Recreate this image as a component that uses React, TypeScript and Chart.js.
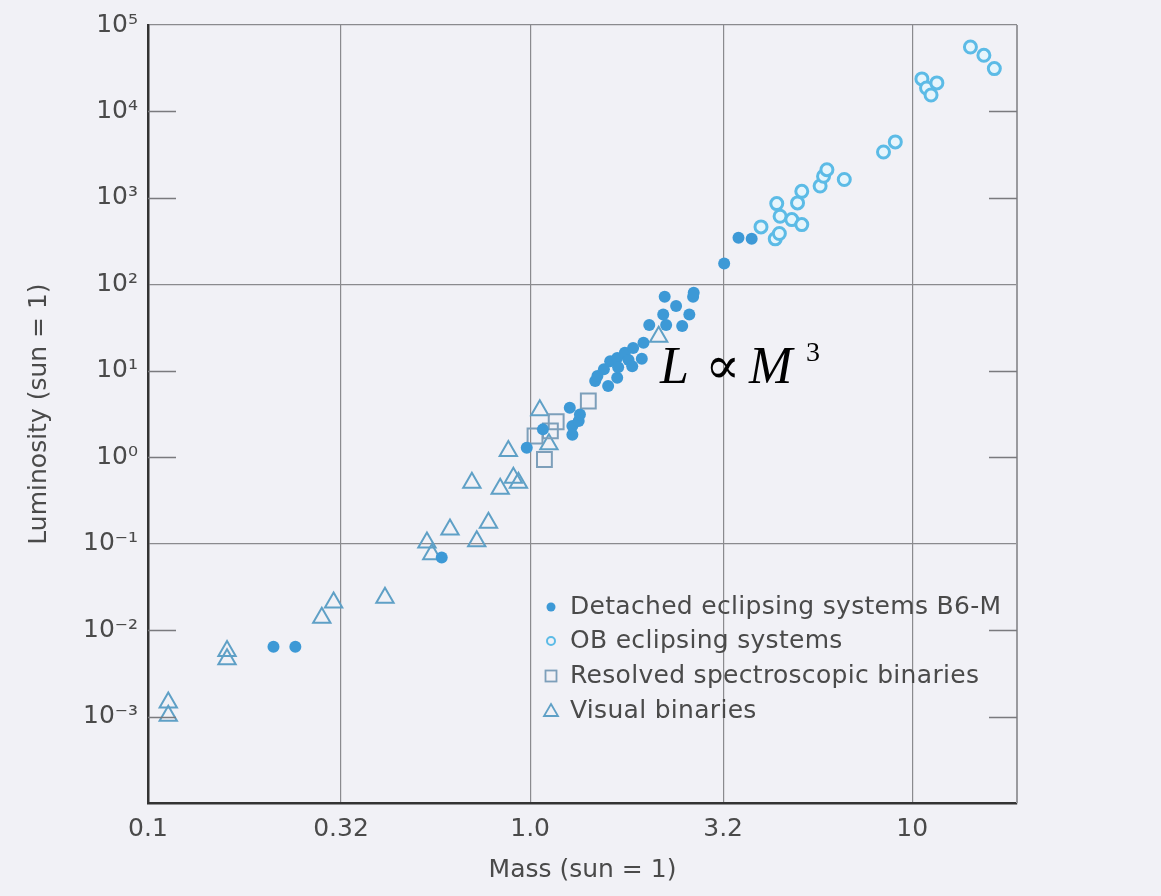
import React, { useEffect, useRef } from 'react';
import { Chart, registerables } from 'chart.js';

Chart.register(...registerables);

// ---- data (mass in solar units, luminosity in solar units) ----
const detachedMass = [0.213, 0.243, 0.587, 0.98, 1.08, 1.27, 1.29, 1.29, 1.34, 1.35, 1.48, 1.50, 1.56, 1.60, 1.62, 1.69, 1.69, 1.70, 1.77, 1.81, 1.85, 1.86, 1.96, 1.98, 2.05, 2.23, 2.25, 2.27, 2.41, 2.50, 2.61, 2.67, 2.68, 3.22, 3.51, 3.80];
const detachedLum = [0.0064, 0.0064, 0.069, 1.29, 2.10, 3.73, 2.30, 1.82, 2.62, 3.13, 7.6, 8.7, 10.4, 6.65, 12.9, 14.1, 8.3, 11.0, 16.2, 13.3, 11.3, 18.4, 13.8, 21.1, 33.8, 44.8, 71.7, 33.8, 56.0, 32.9, 44.8, 71.7, 79.7, 174, 345, 336];

const obMass = [4.02, 4.38, 4.49, 4.42, 4.51, 4.84, 5.01, 5.14, 5.14, 5.74, 5.86, 5.98, 6.64, 8.41, 9.03, 10.6, 10.9, 11.2, 11.6, 14.2, 15.4, 16.4];
const obLum = [462, 336, 387, 859, 614, 561, 875, 1190, 491, 1370, 1780, 2120, 1630, 3400, 4440, 23800, 18700, 15500, 21400, 55700, 44600, 31300];

const specMass = [1.03, 1.09, 1.13, 1.17, 1.42];
const specLum = [1.76, 0.94, 2.02, 2.57, 4.47];

const visualMass = [0.113, 0.113, 0.161, 0.161, 0.285, 0.306, 0.417, 0.537, 0.553, 0.617, 0.704, 0.725, 0.778, 0.835, 0.877, 0.904, 0.932, 1.06, 1.12, 2.17];
const visualLum = [0.00145, 0.00102, 0.00575, 0.00459, 0.0139, 0.0208, 0.0237, 0.103, 0.0752, 0.146, 0.507, 0.107, 0.175, 0.432, 1.18, 0.579, 0.507, 3.49, 1.41, 24.7];

const massTicks = [0.1, 0.32, 1.0, 3.2, 10];
const massTickLabels = ['0.1', '0.32', '1.0', '3.2', '10'];
const lumTicks = [1e-3, 1e-2, 1e-1, 1e0, 1e1, 1e2, 1e3, 1e4, 1e5];
const lumTickLabels = ['10⁻³', '10⁻²', '10⁻¹', '10⁰', '10¹', '10²', '10³', '10⁴', '10⁵'];
const lumGridValues = [1e-1, 1e2, 1e5];

const seriesNames = [
  'Detached eclipsing systems B6-M',
  'OB eclipsing systems',
  'Resolved spectroscopic binaries',
  'Visual binaries',
];

const BG = '#f1f1f6';
const TEXT = '#4a4a4a';
const FONT = "'DejaVu Sans', sans-serif";

const pts = (xs: number[], ys: number[]) => xs.map((x, i) => ({ x, y: ys[i] }));

const isGrid = (v: number) => lumGridValues.some((g) => Math.abs(Math.log10(v) - Math.log10(g)) < 1e-6);

const decorPlugin = {
  id: 'decor',
  afterDraw(chart: any) {
    const { ctx, chartArea } = chart;
    const { left, right, top, bottom } = chartArea;
    const ys = chart.scales.y;
    ctx.save();
    // right border
    ctx.strokeStyle = '#9a9a9e';
    ctx.lineWidth = 2;
    ctx.beginPath();
    ctx.moveTo(right, top);
    ctx.lineTo(right, bottom);
    ctx.stroke();
    // inner short tick marks
    ctx.strokeStyle = '#7a7a7e';
    ctx.lineWidth = 1.3;
    lumTicks.forEach((v) => {
      if (isGrid(v)) return;
      const y = Math.round(ys.getPixelForValue(v)) + 0.5;
      ctx.beginPath();
      ctx.moveTo(left, y);
      ctx.lineTo(left + 28, y);
      ctx.moveTo(right - 28, y);
      ctx.lineTo(right, y);
      ctx.stroke();
    });

    // legend
    const lx = 551;
    const tx = 570;
    const rows = [607, 641, 676, 711];
    ctx.font = `25px ${FONT}`;
    try {
      (ctx as any).letterSpacing = '0.3px';
    } catch (e) {
      /* ignore */
    }
    ctx.fillStyle = TEXT;
    ctx.textBaseline = 'middle';
    ctx.textAlign = 'left';
    seriesNames.forEach((name, i) => ctx.fillText(name, tx, rows[i]));
    try {
      (ctx as any).letterSpacing = '0px';
    } catch (e) {
      /* ignore */
    }
    // markers
    ctx.fillStyle = '#3d99d6';
    ctx.beginPath();
    ctx.arc(lx, rows[0], 4.5, 0, Math.PI * 2);
    ctx.fill();
    ctx.strokeStyle = '#5cbbe6';
    ctx.lineWidth = 2;
    ctx.beginPath();
    ctx.arc(lx, rows[1], 4, 0, Math.PI * 2);
    ctx.stroke();
    ctx.strokeStyle = '#7d9fba';
    ctx.lineWidth = 1.8;
    ctx.strokeRect(lx - 5.5, rows[2] - 5.5, 11, 11);
    ctx.strokeStyle = '#5fa0c6';
    ctx.beginPath();
    ctx.moveTo(lx, rows[3] - 7);
    ctx.lineTo(lx + 7, rows[3] + 5);
    ctx.lineTo(lx - 7, rows[3] + 5);
    ctx.closePath();
    ctx.stroke();

    // annotation L ∝ M^3
    ctx.fillStyle = '#000';
    ctx.textBaseline = 'alphabetic';
    ctx.font = "italic 52px 'Liberation Serif', 'DejaVu Serif', serif";
    ctx.fillText('L', 660, 383);
    ctx.font = "52px 'Liberation Serif', 'DejaVu Serif', serif";
    ctx.fillText('∝', 705, 383);
    ctx.font = "italic 52px 'Liberation Serif', 'DejaVu Serif', serif";
    ctx.fillText('M', 749, 383);
    ctx.font = "28px 'Liberation Serif', 'DejaVu Serif', serif";
    ctx.fillText('3', 806, 361);
    ctx.restore();
  },
};

export default function App() {
  const ref = useRef<HTMLCanvasElement>(null);

  useEffect(() => {
    document.body.style.margin = '0';
    document.body.style.background = BG;
    const chart = new Chart(ref.current as HTMLCanvasElement, {
      type: 'scatter',
      data: {
        datasets: [
          {
            label: seriesNames[0],
            data: pts(detachedMass, detachedLum),
            pointStyle: 'circle',
            pointRadius: 6,
            pointBorderWidth: 0,
            backgroundColor: '#3d99d6',
            borderColor: '#3d99d6',
          },
          {
            label: seriesNames[1],
            data: pts(obMass, obLum),
            pointStyle: 'circle',
            pointRadius: 6,
            pointBorderWidth: 3,
            backgroundColor: '#e6f5fc',
            borderColor: '#5cbbe6',
          },
          {
            label: seriesNames[2],
            data: pts(specMass, specLum),
            pointStyle: 'rect',
            pointRadius: 10.5,
            pointBorderWidth: 2,
            backgroundColor: 'rgba(0,0,0,0)',
            borderColor: '#7d9fba',
          },
          {
            label: seriesNames[3],
            data: pts(visualMass, visualLum),
            pointStyle: 'triangle',
            pointRadius: 10,
            pointBorderWidth: 2,
            backgroundColor: 'rgba(0,0,0,0)',
            borderColor: '#5fa0c6',
          },
        ],
      },
      options: {
        responsive: false,
        animation: false,
        events: [],
        layout: { padding: { left: 0, top: 22, right: 144, bottom: 0 } },
        plugins: { legend: { display: false }, tooltip: { enabled: false } },
        scales: {
          x: {
            type: 'logarithmic',
            min: 0.1,
            max: 18.8,
            afterBuildTicks: (s: any) => {
              s.ticks = massTicks.map((v) => ({ value: v }));
            },
            afterFit: (s: any) => {
              s.height = 93;
            },
            ticks: {
              autoSkip: false,
              maxRotation: 0,
              padding: 11,
              color: TEXT,
              font: { family: FONT, size: 25 },
              callback: (_v: any, i: number) => massTickLabels[i],
            },
            grid: { color: '#8a8a8e', lineWidth: 1.2, drawTicks: false },
            border: { color: '#333333', width: 2.5 },
            title: {
              display: true,
              text: 'Mass (sun = 1)',
              color: TEXT,
              font: { family: FONT, size: 25 },
              padding: { top: 0, bottom: 11 },
            },
          },
          y: {
            type: 'logarithmic',
            min: 1e-4,
            max: 1e5,
            afterBuildTicks: (s: any) => {
              s.ticks = lumTicks.map((v) => ({ value: v }));
            },
            afterFit: (s: any) => {
              s.width = 148;
            },
            ticks: {
              autoSkip: false,
              padding: 10,
              color: TEXT,
              font: { family: FONT, size: 25 },
              callback: (_v: any, i: number) => lumTickLabels[i],
            },
            grid: {
              drawTicks: false,
              lineWidth: 1.2,
              color: (c: any) => (c.tick && isGrid(c.tick.value) ? '#8a8a8e' : 'rgba(0,0,0,0)'),
            },
            border: { color: '#333333', width: 2.5 },
            title: {
              display: true,
              text: 'Luminosity (sun = 1)',
              color: TEXT,
              font: { family: FONT, size: 25 },
              padding: { top: 24, bottom: 0 },
            },
          },
        },
      },
      plugins: [decorPlugin],
    } as any);
    return () => chart.destroy();
  }, []);

  return (
    <div style={{ position: 'absolute', left: 0, top: 0, width: 1161, height: 896, background: BG }}>
      <canvas ref={ref} width={1161} height={896} style={{ display: 'block', width: 1161, height: 896 }} />
    </div>
  );
}
